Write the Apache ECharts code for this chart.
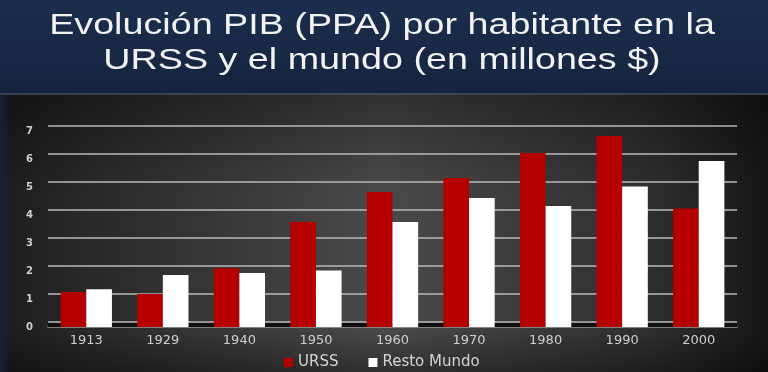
<!DOCTYPE html>
<html><head><meta charset="utf-8">
<script src="https://cdn.jsdelivr.net/npm/echarts@6/dist/echarts.min.js"></script>
<style>html,body{margin:0;padding:0;background:#2a2a2a}#c{width:768px;height:372px}</style>
</head><body><div id="c"></div>
<script>
const categories = ['1913','1929','1940','1950','1960','1970','1980','1990','2000'];
const urss  = [1.25, 1.18, 2.10, 3.75, 4.82, 5.32, 6.21, 6.82, 4.23];
const resto = [1.35, 1.86, 1.93, 2.02, 3.75, 4.61, 4.32, 5.02, 5.93];
const seriesNames = ['URSS', 'Resto Mundo'];
const yMin = 0, yMax = 7, yStep = 1;
const titleLines = ['Evolución PIB (PPA) por habitante en la', 'URSS y el mundo (en millones $)'];

const chart = echarts.init(document.getElementById('c'), null, {renderer: 'canvas'});
const GL = 48, GR = 31;
const labelFont = 'DejaVu Sans';

const option = {
  backgroundColor: '#2a2a2a',
  animation: false,
  grid: [
    {left: GL, right: GR, top: 126, bottom: 50},
    {left: GL, right: GR, top: 131, bottom: 45}
  ],
  xAxis: [
    {gridIndex: 0, type: 'category', data: categories, axisLine: {show: false}, axisTick: {show: false}, axisLabel: {show: false}},
    {gridIndex: 1, type: 'category', data: categories,
     axisLine: {show: true, lineStyle: {color: '#9c9c9c', width: 1.5}},
     axisTick: {show: false},
     axisLabel: {color: '#cfcfcf', fontFamily: labelFont, fontSize: 13, margin: 7}}
  ],
  yAxis: [
    {gridIndex: 0, type: 'value', min: yMin, max: yMax, interval: yStep,
     axisLabel: {show: false}, axisLine: {show: false}, axisTick: {show: false},
     splitLine: {show: true, lineStyle: {color: '#b8b8b8', width: 1.5}}},
    {gridIndex: 1, type: 'value', min: yMin, max: yMax, interval: yStep,
     axisLine: {show: false}, axisTick: {show: false}, splitLine: {show: false},
     axisLabel: {color: '#cfcfcf', fontFamily: labelFont, fontSize: 10, fontWeight: 'bold', margin: 15, padding: [5, 0, 0, 0]}}
  ],
  legend: {
    data: seriesNames, left: 279, top: 350, icon: 'rect', itemWidth: 9, itemHeight: 9, itemGap: 30,
    textStyle: {color: '#d4d4d4', fontFamily: labelFont, fontSize: 15}
  },
  series: [
    {name: seriesNames[0], type: 'bar', xAxisIndex: 1, yAxisIndex: 1, data: urss,
     barGap: '0%', barCategoryGap: '33%', itemStyle: {color: '#b60000'}, z: 3},
    {name: seriesNames[1], type: 'bar', xAxisIndex: 1, yAxisIndex: 1, data: resto,
     itemStyle: {color: '#ffffff'}, z: 3}
  ],
  graphic: [
    {type: 'rect', z: -20, shape: {x: 0, y: 0, width: 768, height: 94}, silent: true,
     style: {fill: {type: 'linear', x: 0, y: 0, x2: 0, y2: 1, colorStops: [
       {offset: 0, color: '#1c2e4e'}, {offset: 1, color: '#15233e'}]}}},
    {type: 'rect', z: -20, shape: {x: 0, y: 94, width: 768, height: 278}, silent: true,
     style: {fill: {type: 'linear', x: 0, y: 0, x2: 1, y2: 0, colorStops: [
       {offset: 0, color: '#1d1d1f'}, {offset: 0.12, color: '#29292a'}, {offset: 0.5, color: '#4a4a4a'},
       {offset: 0.85, color: '#2e2e2e'}, {offset: 1, color: '#161616'}]}}},
    {type: 'rect', z: -19, shape: {x: 0, y: 94, width: 768, height: 278}, silent: true,
     style: {fill: {type: 'linear', x: 0, y: 0, x2: 0, y2: 1, colorStops: [
       {offset: 0, color: 'rgba(0,0,0,0.35)'}, {offset: 0.35, color: 'rgba(0,0,0,0)'},
       {offset: 0.85, color: 'rgba(0,0,0,0)'}, {offset: 1, color: 'rgba(0,0,0,0.35)'}]}}},
    {type: 'rect', z: -18, shape: {x: 0, y: 94, width: 10, height: 278}, silent: true,
     style: {fill: {type: 'linear', x: 0, y: 0, x2: 1, y2: 0, colorStops: [
       {offset: 0, color: 'rgba(22,34,58,1)'}, {offset: 1, color: 'rgba(22,34,58,0)'}]}}},
    {type: 'rect', z: -18, shape: {x: 0, y: 93, width: 768, height: 2}, silent: true,
     style: {fill: 'rgba(90,100,120,0.5)'}},
    {type: 'text', x: 382, y: 26, scaleX: 1.3, z: 10, silent: true,
     style: {text: titleLines[0], fill: '#f2f2f2', font: '29px "Liberation Sans", Arial, sans-serif', align: 'center', verticalAlign: 'middle'}},
    {type: 'text', x: 382, y: 61, scaleX: 1.3, z: 10, silent: true,
     style: {text: titleLines[1], fill: '#f2f2f2', font: '29px "Liberation Sans", Arial, sans-serif', align: 'center', verticalAlign: 'middle'}}
  ]
};
chart.setOption(option);

// floor band between back (gridIndex 0) and front (gridIndex 1) zero lines
const yBack = chart.convertToPixel({yAxisIndex: 0}, 0);
const yFront = chart.convertToPixel({yAxisIndex: 1}, 0);
chart.setOption({graphic: option.graphic.concat([
  {type: 'rect', z: 1, silent: true,
   shape: {x: GL, y: yBack + 1, width: 768 - GL - GR, height: yFront - yBack - 1},
   style: {fill: '#101010'}}
])});
</script></body></html>
